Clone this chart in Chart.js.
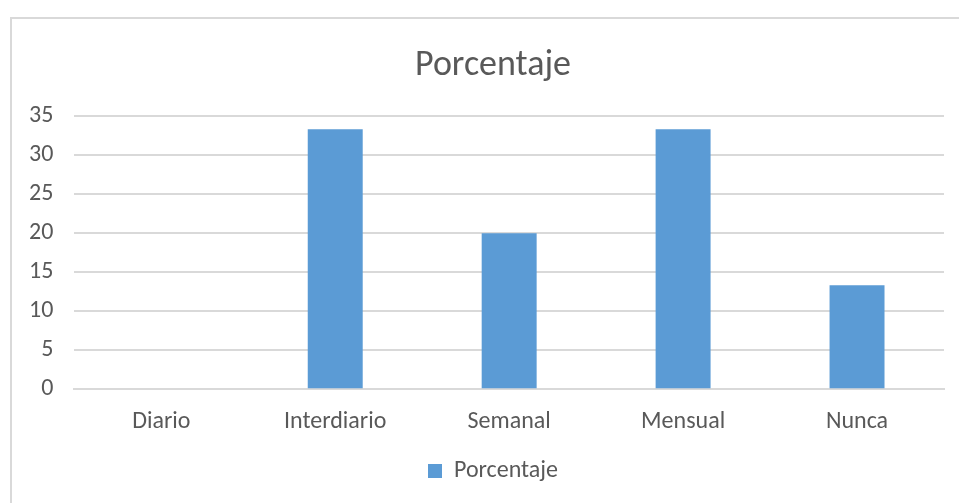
<!DOCTYPE html>
<html>
<head>
<meta charset="utf-8">
<script src="https://cdn.jsdelivr.net/npm/chart.js@4/dist/chart.umd.min.js"></script>
<style>
  html, body { margin: 0; padding: 0; background: #fff; width: 959px; height: 503px; overflow: hidden; position: relative; }
  #frame { position: absolute; left: 10px; top: 17px; width: 960px; height: 500px; border: 2px solid #d9d9d9; box-sizing: border-box; }
  #wrap { position: absolute; left: 0; top: 0; width: 979px; height: 503px; }
</style>
</head>
<body>
<div id="frame"></div>
<div id="wrap"><canvas id="c" width="979" height="503"></canvas></div>
<script>
const categories = ["Diario", "Interdiario", "Semanal", "Mensual", "Nunca"];
const seriesName = "Porcentaje";
const values = [0, 33.33, 20, 33.33, 13.33];
const yMin = 0, yMax = 35, yStep = 5;

const textColor = "#595959";
const fontFamily = "Carlito, Calibri, 'Open Sans', sans-serif";

new Chart(document.getElementById("c"), {
  type: "bar",
  data: {
    labels: categories,
    datasets: [{
      label: seriesName,
      data: values,
      backgroundColor: "#5B9BD5",
      borderWidth: 0,
      categoryPercentage: 1,
      barPercentage: 0.316
    }]
  },
  options: {
    responsive: false,
    animation: false,
    devicePixelRatio: 1,
    layout: { padding: { left: 8, right: 1, top: 0, bottom: 10 } },
    plugins: {
      title: {
        display: true,
        text: seriesName,
        color: textColor,
        font: { family: fontFamily, size: 36, weight: "normal" },
        padding: { top: 44, bottom: 29 }
      },
      legend: {
        display: true,
        position: "bottom",
        labels: {
          color: textColor,
          font: { family: fontFamily, size: 24 },
          boxWidth: 14,
          boxHeight: 14,
          padding: 5
        }
      },
      tooltip: { enabled: false }
    },
    scales: {
      x: {
        grid: { display: false, drawTicks: false },
        border: { display: true, color: "#d9d9d9", width: 2 },
        ticks: { color: textColor, font: { family: fontFamily, size: 24 }, padding: 18, maxRotation: 0 }
      },
      y: {
        min: yMin, max: yMax,
        grid: { color: "#d9d9d9", lineWidth: 2, drawTicks: false },
        border: { display: false },
        ticks: { stepSize: yStep, color: textColor, font: { family: fontFamily, size: 24 }, padding: 21 }
      },
      y2: {
        position: "right",
        display: true,
        min: yMin, max: yMax,
        afterFit: (s) => { s.width = 34; },
        grid: { display: false, drawTicks: false },
        border: { display: false },
        ticks: { display: false }
      }
    }
  }
});
</script>
</body>
</html>
